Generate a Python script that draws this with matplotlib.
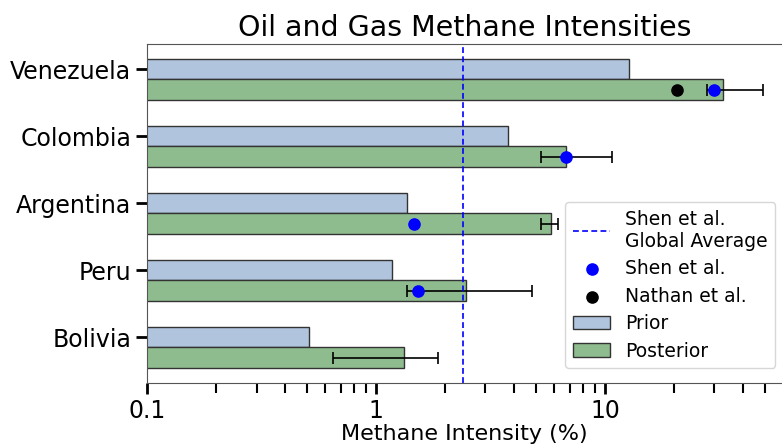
import numpy as np
import matplotlib
matplotlib.use("Agg")
import matplotlib.pyplot as plt

countries = ["Venezuela", "Colombia", "Argentina", "Peru", "Bolivia"]
prior = [12.7, 3.76, 1.36, 1.17, 0.51]
posterior = [32.7, 6.74, 5.81, 2.48, 1.32]
post_lo = [28.0, 5.25, 5.27, 1.37, 0.65]     # lower end of posterior range
post_hi = [49.3, 10.7, 6.24, 4.79, 1.87]     # upper end of posterior range
shen = [30.1, 6.74, 1.47, 1.52, np.nan]
nathan = [20.6, np.nan, np.nan, np.nan, np.nan]
shen_global = 2.4

y = np.arange(len(countries))[::-1].astype(float)
h = 0.3

fig = plt.figure(figsize=(7.82, 4.47), dpi=100)
ax = fig.add_axes([0.1885, 0.1432, 0.8115, 0.7584])

ax.barh(y, prior, height=h, color="lightsteelblue", edgecolor="#333333",
        linewidth=1, label="Prior")
ax.barh(y - h, posterior, height=h, color="darkseagreen", edgecolor="#333333",
        linewidth=1, label="Posterior")

post = np.array(posterior)
xerr = [post - np.array(post_lo), np.array(post_hi) - post]
ax.errorbar(posterior, y - h, xerr=xerr, fmt="none", ecolor="black",
            elinewidth=1.2, capsize=4, capthick=1.2)

ax.axvline(shen_global, color="blue", ls=(0, (3.5, 2)), lw=1.2,
           label="Shen et al.\nGlobal Average")
ax.scatter(shen, y - h, color="blue", s=65, zorder=5, label="Shen et al.")
ax.scatter(nathan, y - h, color="black", s=65, zorder=5, label="Nathan et al.")

ax.set_xscale("log")
ax.set_xlim(0.1, 59.4)
ax.set_xticks([0.1, 1, 10])
ax.set_xticklabels(["0.1", "1", "10"])
ax.set_yticks(y)
ax.set_yticklabels(countries)
ax.tick_params(axis="both", which="major", labelsize=17, length=8, width=2)
ax.tick_params(axis="x", which="minor", length=7, width=1.5)

ax.spines["right"].set_visible(False)
for s in ["left", "bottom", "top"]:
    ax.spines[s].set_color("#555555")

ax.set_xlabel("Methane Intensity (%)", fontsize=16, labelpad=1)
ax.set_title("Oil and Gas Methane Intensities", fontsize=20.5)

handles, labels = ax.get_legend_handles_labels()
order = [labels.index(l) for l in ["Shen et al.\nGlobal Average", "Shen et al.",
                                   "Nathan et al.", "Prior", "Posterior"]]
ax.legend([handles[i] for i in order], [labels[i] for i in order],
          fontsize=13.5, loc="lower right", bbox_to_anchor=(0.9896, 0.044),
          borderaxespad=0, labelspacing=0.45)

fig.savefig("out.png", dpi=100)
